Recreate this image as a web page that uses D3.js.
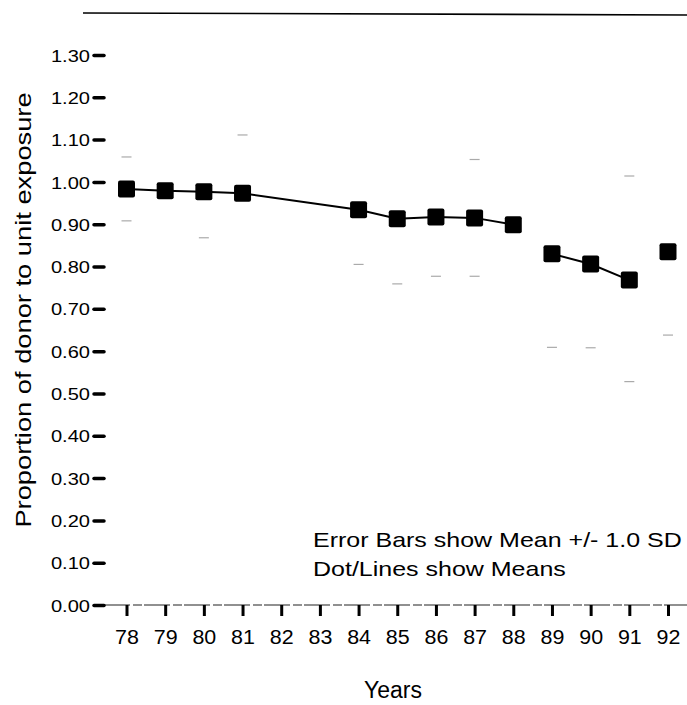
<!DOCTYPE html>
<html>
<head>
<meta charset="utf-8">
<script src="https://cdn.jsdelivr.net/npm/d3@7"></script>
<style>
  html, body { margin: 0; padding: 0; background: #fff; }
  svg { display: block; }
  text { font-family: Arial, "Liberation Sans", Helvetica, sans-serif; fill: #000; }
</style>
</head>
<body>
<svg id="chart" width="687" height="705"></svg>
<script>
// ---- data ----
const years = [78, 79, 80, 81, 84, 85, 86, 87, 88, 89, 90, 91, 92];
const means = [0.983, 0.979, 0.977, 0.973, 0.934, 0.913, 0.917, 0.915, 0.899, 0.830, 0.806, 0.768, 0.835];
const segments = [1, 1, 1, 1, 1, 1, 1, 1, 1, 2, 2, 2, 3];
const upperSD = [1.059, null, null, 1.111, null, null, null, 1.053, null, null, null, 1.014, null];
const lowerSD = [0.908, null, 0.868, null, 0.805, 0.759, 0.777, 0.777, null, 0.609, 0.608, 0.528, 0.638];
const xTickYears = [78, 79, 80, 81, 82, 83, 84, 85, 86, 87, 88, 89, 90, 91, 92];
const yTickValues = [0.0, 0.1, 0.2, 0.3, 0.4, 0.5, 0.6, 0.7, 0.8, 0.9, 1.0, 1.1, 1.2, 1.3];
const yTitle = "Proportion of donor to unit exposure";
const xTitle = "Years";
const notes = ["Error Bars show Mean +/- 1.0 SD", "Dot/Lines show Means"];

const FONT = "Arial, 'Liberation Sans', Helvetica, sans-serif";
function stretch(sel, k) {
  sel.each(function () {
    const w = this.getComputedTextLength();
    d3.select(this).attr("textLength", w * k).attr("lengthAdjust", "spacingAndGlyphs");
  });
}

// ---- scales ----
const svg = d3.select("#chart");
const x = d3.scaleLinear().domain([78, 92]).range([126.5, 668]);
const y = d3.scaleLinear().domain([0, 1.3]).range([605, 55]);

// top rule
svg.append("line")
  .attr("x1", 83).attr("x2", 687).attr("y1", 13).attr("y2", 15)
  .attr("stroke", "#000").attr("stroke-width", 1.6);

// x baseline (broken, photocopy-like)
svg.append("line")
  .attr("x1", 104).attr("x2", 687).attr("y1", y(0)).attr("y2", y(0))
  .attr("stroke", "#222").attr("stroke-width", 1.2)
  .attr("stroke-dasharray", "26,3,9,2");

// y axis
const yAxis = d3.axisLeft(y)
  .tickValues(yTickValues)
  .tickFormat(d3.format(".2f"))
  .tickSize(0)
  .tickPadding(0);
const gy = svg.append("g").attr("transform", "translate(92,0)").call(yAxis);
gy.attr("font-size", null).attr("font-family", null);
gy.select(".domain").remove();
gy.selectAll(".tick text")
  .attr("x", -2)
  .attr("dy", "0.36em")
  .style("font-size", "17px")
  .style("font-family", FONT)
  .call(stretch, 1.18);
gy.selectAll(".tick").append("line")
  .attr("x1", 2).attr("x2", 12)
  .attr("stroke", "#000").attr("stroke-width", 3.5).attr("stroke-linecap", "round");

// x axis
const xAxis = d3.axisBottom(x)
  .tickValues(xTickYears)
  .tickFormat(d3.format("d"))
  .tickSize(0)
  .tickPadding(0);
const gx = svg.append("g").attr("transform", `translate(0,${y(0)})`).call(xAxis);
gx.attr("font-size", null).attr("font-family", null);
gx.select(".domain").remove();
gx.selectAll(".tick").append("line")
  .attr("y1", 0).attr("y2", 11)
  .attr("stroke", "#000").attr("stroke-width", 3);
gx.selectAll(".tick text")
  .attr("y", 39)
  .attr("dy", "0")
  .style("font-size", "19.5px")
  .style("font-family", FONT)
  .call(stretch, 1.1);

// error bar caps (faint)
const caps = [];
years.forEach((yr, i) => {
  if (upperSD[i] != null) caps.push({yr, v: upperSD[i]});
  if (lowerSD[i] != null) caps.push({yr, v: lowerSD[i]});
});
svg.append("g").selectAll("line").data(caps).join("line")
  .attr("x1", d => x(d.yr) - 5).attr("x2", d => x(d.yr) + 5)
  .attr("y1", d => y(d.v)).attr("y2", d => y(d.v))
  .attr("stroke", "#aaa").attr("stroke-width", 1.2);

// mean lines by segment
const pts = years.map((yr, i) => ({yr, v: means[i], seg: segments[i]}));
const groups = d3.groups(pts, d => d.seg);
const line = d3.line().x(d => x(d.yr)).y(d => y(d.v));
svg.append("g").selectAll("path").data(groups).join("path")
  .attr("d", d => line(d[1]))
  .attr("fill", "none").attr("stroke", "#000").attr("stroke-width", 2);

// square markers
const s = 17;
svg.append("g").selectAll("rect").data(pts).join("rect")
  .attr("x", d => x(d.yr) - s / 2).attr("y", d => y(d.v) - s / 2)
  .attr("width", s).attr("height", s).attr("rx", 2)
  .attr("fill", "#000");

// notes
svg.append("g").selectAll("text").data(notes).join("text")
  .attr("x", 313).attr("y", (d, i) => 547 + i * 29)
  .style("font-size", "21px")
  .text(d => d)
  .call(stretch, 1.19);

// axis titles
svg.append("text")
  .attr("transform", "translate(31,310) rotate(-90)")
  .attr("text-anchor", "middle")
  .style("font-size", "22px")
  .text(yTitle)
  .call(stretch, 1.24);

svg.append("text")
  .attr("x", 393).attr("y", 698)
  .attr("text-anchor", "middle")
  .style("font-size", "23px")
  .text(xTitle);
</script>
</body>
</html>
